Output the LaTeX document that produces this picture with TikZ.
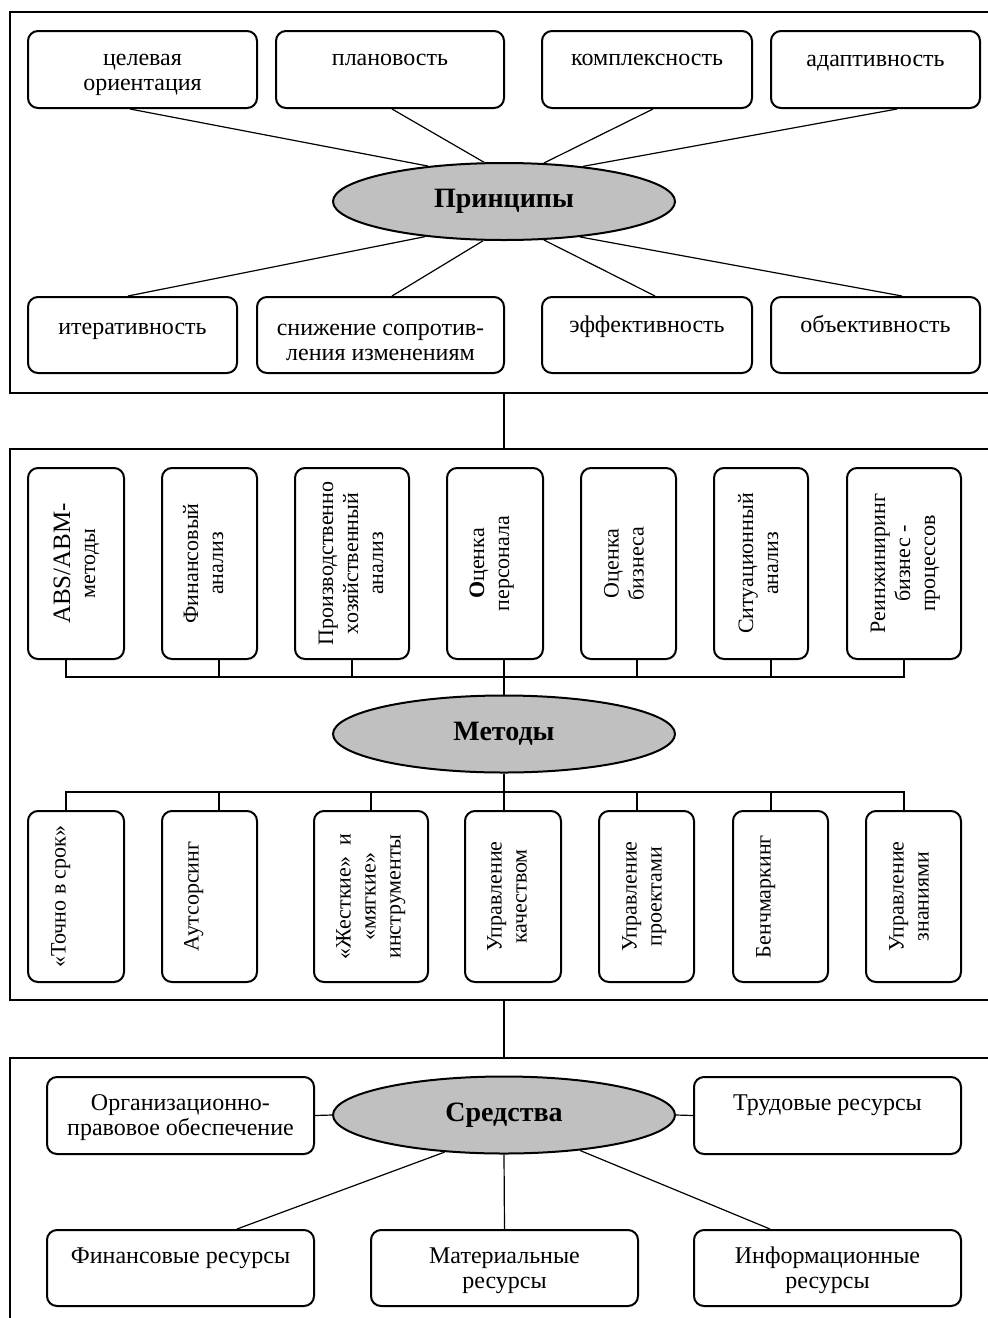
\documentclass[tikz,border=0pt]{standalone}
\usepackage{fontspec}
\setmainfont{Liberation Serif}
\usetikzlibrary{shapes.geometric,fit,calc}
\definecolor{ovalgray}{HTML}{C0C0C0}
\newcommand\lns[1]{\begin{tabular}[t]{@{}c@{}}#1\end{tabular}}
\begin{document}
\begin{tikzpicture}[x=0.5pt,y=-0.5pt,
  frame/.style={draw, line width=1pt, inner sep=0pt},
  rbox/.style={draw, line width=1pt, rounded corners=5pt, inner sep=0pt},
  oval/.style={ellipse, draw, line width=1pt, fill=ovalgray, minimum width=171pt, minimum height=38.5pt, inner sep=0pt, font=\fontsize{14}{16}\selectfont\bfseries},
  link/.style={line width=0.6pt},
  framelink/.style={line width=1pt},
  txt/.style={font=\fontsize{12}{12.5}\selectfont, inner sep=0pt, anchor=base},
  rtxt/.style={txt, font=\fontsize{11}{12.5}\selectfont, rotate=90}]
\useasboundingbox (0,0) rectangle (987,1318);

% ---------- frames ----------
\node[frame, fit={(10,11.5) (1000,393)}] (F1) {};
\node[frame, fit={(10,449) (1000,1000)}] (F2) {};
\node[frame, fit={(10,1058) (1000,1340)}] (F3) {};

% ---------- principles ----------
\node[oval] (P) at (504,201.5) {Принципы};
\node[rbox, fit={(28,31) (257,108)}] (b1) {};
\node[rbox, fit={(276,31) (504,108)}] (b2) {};
\node[rbox, fit={(542,31) (752,108)}] (b3) {};
\node[rbox, fit={(771,31) (980,108)}] (b4) {};
\node[rbox, fit={(28,297) (237,373)}] (c1) {};
\node[rbox, fit={(257,297) (504,373)}] (c2) {};
\node[rbox, fit={(542,297) (752,373)}] (c3) {};
\node[rbox, fit={(771,297) (980,373)}] (c4) {};

\node[txt] (b1t) at ($(b1.north)+(0,35)$) {\lns{целевая\\ориентация}};
\node[txt] (b2t) at ($(b2.north)+(0,35)$) {плановость};
\node[txt] (b3t) at ($(b3.north)+(0,35)$) {комплексность};
\node[txt] (b4t) at ($(b4.north)+(0,36)$) {адаптивность};
\node[txt] (c1t) at ($(c1.north)+(0,38.5)$) {итеративность};
\node[txt] (c2t) at ($(c2.north)+(0,39)$) {\lns{снижение сопротив-\\ления изменениям}};
\node[txt] (c3t) at ($(c3.north)+(0,36.5)$) {эффективность};
\node[txt] (c4t) at ($(c4.north)+(0,36.5)$) {объективность};

\draw[link] ($(b1.south)+(-12.5,0)$) -- (P.155.6);
\draw[link] ($(b2.south)+(2,0)$) -- (P.117.6);
\draw[link] ($(b3.south)+(6,0)$) -- (P.44.6);
\draw[link] ($(b4.south)+(21.5,0)$) -- (P.24.4);
\draw[link] ($(c1.north)+(-4.5,0)$) -- (P.204.4);
\draw[link] ($(c2.north)+(11.5,0)$) -- (P.242.4);
\draw[link] ($(c3.north)+(8,0)$) -- (P.316.1);
\draw[link] ($(c4.north)+(26.5,0)$) -- (P.335.6);

\draw[framelink] (F1.south -| P.south) -- (F2.north -| P.south);

% ---------- methods ----------
\node[oval] (M) at (504,734) {Методы};
\node[rbox, fit={(28,468) (124,659)}] (m1) {};
\node[rbox, fit={(162,468) (257,659)}] (m2) {};
\node[rbox, fit={(295,468) (409,659)}] (m3) {};
\node[rbox, fit={(447,468) (543,659)}] (m4) {};
\node[rbox, fit={(581,468) (676,659)}] (m5) {};
\node[rbox, fit={(714,468) (808,659)}] (m6) {};
\node[rbox, fit={(847,468) (961,659)}] (m7) {};

\node[rtxt] (m1t) at ($(m1.west)+(43,0)$) {\lns{{\fontsize{12.5}{12.5}\selectfont ABS/ABM-}\\методы}};
\node[rtxt] (m2t) at ($(m2.west)+(37,0)$) {\lns{Финансовый\\анализ}};
\node[rtxt] (m3t) at ($(m3.west)+(39,0)$) {\lns{Производственно\\хозяйственный\\анализ}};
\node[rtxt] (m4t) at ($(m4.west)+(38,0)$) {\lns{\textbf{О}ценка\\персонала}};
\node[rtxt] (m5t) at ($(m5.west)+(38.5,0)$) {\lns{Оценка\\бизнеса}};
\node[rtxt] (m6t) at ($(m6.west)+(40,0)$) {\lns{Ситуационный\\анализ}};
\node[rtxt] (m7t) at ($(m7.west)+(39,0)$) {\lns{Реинжиниринг\\бизнес -\\процессов}};

\coordinate (tbus) at (504,677);
\draw[link] ($(m1.south)+(-10,0)$) |- (tbus) -| (m7.south);
\draw[link] ($(m2.south)+(9.5,0)$) coordinate (d2) -- (d2 |- tbus);
\draw[link] (m3.south) -- (m3.south |- tbus);
\draw[link] ($(m4.south)+(9,0)$) -- (M.north);
\draw[link] ($(m5.south)+(8.5,0)$) coordinate (d5) -- (d5 |- tbus);
\draw[link] ($(m6.south)+(10,0)$) coordinate (d6) -- (d6 |- tbus);

\node[rbox, fit={(28,811) (124,982)}] (n1) {};
\node[rbox, fit={(162,811) (257,982)}] (n2) {};
\node[rbox, fit={(314,811) (428,982)}] (n3) {};
\node[rbox, fit={(465,811) (561,982)}] (n4) {};
\node[rbox, fit={(599,811) (694,982)}] (n5) {};
\node[rbox, fit={(733,811) (828,982)}] (n6) {};
\node[rbox, fit={(866,811) (961,982)}] (n7) {};

\node[rtxt] (n1t) at ($(n1.west)+(38.5,0)$) {«Точно в срок»};
\node[rtxt] (n2t) at ($(n2.west)+(37.5,0)$) {Аутсорсинг};
\node[rtxt] (n3t) at ($(n3.west)+(37.5,0)$) {\lns{«Жесткие»\ \ и\\«мягкие»\\инструменты}};
\node[rtxt] (n4t) at ($(n4.west)+(37.5,0)$) {\lns{Управление\\качеством}};
\node[rtxt] (n5t) at ($(n5.west)+(38.5,0)$) {\lns{Управление\\проектами}};
\node[rtxt] (n6t) at ($(n6.west)+(38.5,0)$) {Бенчмаркинг};
\node[rtxt] (n7t) at ($(n7.west)+(38.5,0)$) {\lns{Управление\\знаниями}};

\coordinate (bbus) at (504,792);
\draw[link] (M.south) -- (bbus);
\draw[link] ($(n1.north)+(-10,0)$) |- (bbus) -| ($(n7.north)+(-9.5,0)$);
\draw[link] ($(n2.north)+(9.5,0)$) coordinate (e2) -- (e2 |- bbus);
\draw[link] (n3.north) -- (n3.north |- bbus);
\draw[link] ($(n4.north)+(-9,0)$) -- (bbus);
\draw[link] ($(n5.north)+(-9.5,0)$) coordinate (e5) -- (e5 |- bbus);
\draw[link] ($(n6.north)+(-9.5,0)$) coordinate (e6) -- (e6 |- bbus);

\draw[framelink] (F2.south -| M.south) -- (F3.north -| M.south);

% ---------- means ----------
\node[oval] (S) at (504,1115) {Средства};
\node[rbox, fit={(47,1077) (314,1154)}] (o1) {};
\node[rbox, fit={(694,1077) (961,1154)}] (o2) {};
\node[rbox, fit={(47,1230) (314,1306)}] (f1) {};
\node[rbox, fit={(371,1230) (638,1306)}] (f2) {};
\node[rbox, fit={(694,1230) (961,1306)}] (f3) {};

\node[txt] (o1t) at ($(o1.north)+(0,34.5)$) {\lns{Организационно-\\правовое обеспечение}};
\node[txt] (o2t) at ($(o2.north)+(0,34.5)$) {Трудовые ресурсы};
\node[txt] (f1t) at ($(f1.north)+(0,34)$) {Финансовые ресурсы};
\node[txt] (f2t) at ($(f2.north)+(0,34)$) {\lns{Материальные\\ресурсы}};
\node[txt] (f3t) at ($(f3.north)+(0,34)$) {\lns{Информационные\\ресурсы}};

\draw[link] (o1.east) -- (S.west);
\draw[link] (S.east) -- (o2.west);
\draw[link] (S.212.7) -- ($(f1.north)+(56.5,0)$);
\draw[link] (S.south) -- (f2.north);
\draw[link] (S.335.9) -- ($(f3.north)+(-57.5,0)$);
\end{tikzpicture}
\end{document}
